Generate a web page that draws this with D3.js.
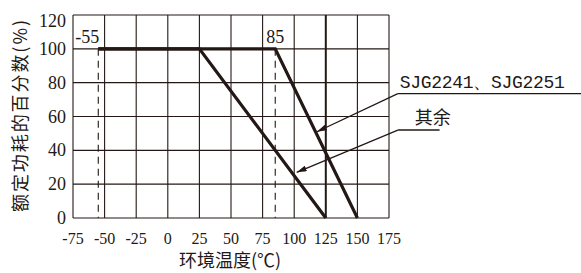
<!DOCTYPE html>
<html>
<head>
<meta charset="utf-8">
<script src="https://cdn.jsdelivr.net/npm/d3@7"></script>
<style>
	body { margin: 0; background: #fff; }
	svg { display: block; }
</style>
</head>
<body>
<div id="canvas"></div>
<script>
// derating curves: temperature (°C) vs % of rated power
var sjgTemps = [-55, 85, 150];
var sjgPower = [100, 100, 0];
var otherTemps = [-55, 25, 125];
var otherPower = [100, 100, 0];

var xTicks = [-75, -50, -25, 0, 25, 50, 75, 100, 125, 150, 175];
var yTicks = [0, 20, 40, 60, 80, 100, 120];
var markTemps = [-55, 85];          // dashed lines with labels on top

var labels = ["SJG2241、SJG2251", "其余"];
var labelAnchorTemp = [182, 182];
var labelAnchorPower = [73.5, 52];
var labelLineEndTemp = [330, 215];
var arrowTipTemp = [118, 102];
var arrowTipPower = [51, 27];

var w = 581, h = 273;
var ink = "#231815";
var serif = "'Liberation Serif', 'Times New Roman', serif";
var cjk = "'Noto Sans CJK SC', sans-serif";

var svg = d3.select("#canvas")
	.append("svg")
	.attr("width", w)
	.attr("height", h);

var x = d3.scaleLinear().domain([-75, 175]).range([73, 389]);
var y = d3.scaleLinear().domain([0, 120]).range([218, 15]);

// grid
svg.selectAll(".vgrid")
	.data(xTicks)
	.enter()
	.append("line")
	.attr("x1", function(d){ return x(d); })
	.attr("x2", function(d){ return x(d); })
	.attr("y1", y(0))
	.attr("y2", y(120))
	.attr("stroke", ink)
	.attr("stroke-width", function(d){ return d === 125 ? 2 : 1.1; });

svg.selectAll(".hgrid")
	.data(yTicks)
	.enter()
	.append("line")
	.attr("x1", x(-75))
	.attr("x2", x(175))
	.attr("y1", function(d){ return y(d); })
	.attr("y2", function(d){ return y(d); })
	.attr("stroke", ink)
	.attr("stroke-width", 1.1);

// dashed marks
svg.selectAll(".mark")
	.data(markTemps)
	.enter()
	.append("line")
	.attr("x1", function(d){ return x(d); })
	.attr("x2", function(d){ return x(d); })
	.attr("y1", y(100))
	.attr("y2", y(0))
	.attr("stroke", ink)
	.attr("stroke-width", 1.1)
	.attr("stroke-dasharray", "7,5");

svg.selectAll(".markText")
	.data(markTemps)
	.enter()
	.append("text")
	.attr("x", function(d){ return d < 0 ? x(d) - 23 : x(d) - 9; })
	.attr("y", y(100) - 6)
	.attr("font-family", serif)
	.attr("font-size", 18)
	.attr("fill", ink)
	.text(function(d){ return d; });

// curves
var line = d3.line()
	.x(function(d){ return x(d[0]); })
	.y(function(d){ return y(d[1]); });

[[sjgTemps, sjgPower], [otherTemps, otherPower]].forEach(function(s){
	svg.append("path")
		.datum(d3.zip(s[0], s[1]))
		.attr("d", line)
		.attr("fill", "none")
		.attr("stroke", ink)
		.attr("stroke-width", 3.2)
		.attr("stroke-linejoin", "miter");
});

// tick labels
svg.selectAll(".ylab")
	.data(yTicks)
	.enter()
	.append("text")
	.attr("x", 66)
	.attr("y", function(d){ return Math.max(y(d), 21) + 6; })
	.attr("text-anchor", "end")
	.attr("font-family", serif)
	.attr("font-size", 18)
	.attr("fill", ink)
	.text(function(d){ return d; });

svg.selectAll(".xlab")
	.data(xTicks)
	.enter()
	.append("text")
	.attr("x", function(d){ return x(d); })
	.attr("y", 244)
	.attr("text-anchor", "middle")
	.attr("font-family", serif)
	.attr("font-size", 16)
	.attr("fill", ink)
	.text(function(d){ return d; });

// axis titles
svg.append("text")
	.attr("x", 230)
	.attr("y", 267)
	.attr("text-anchor", "middle")
	.attr("font-family", cjk)
	.attr("font-size", 18)
	.attr("fill", ink)
	.text("环境温度(℃)");

svg.append("text")
	.attr("transform", "translate(27,116) rotate(-90)")
	.attr("text-anchor", "middle")
	.attr("font-family", cjk)
	.attr("font-size", 18)
	.attr("textLength", 192)
	.attr("fill", ink)
	.text("额定功耗的百分数(%)");

// annotations with leader arrows
svg.append("defs").append("marker")
	.attr("id", "arrow")
	.attr("viewBox", "0 0 10 6")
	.attr("refX", 10)
	.attr("refY", 3)
	.attr("markerWidth", 10)
	.attr("markerHeight", 6)
	.attr("markerUnits", "userSpaceOnUse")
	.attr("orient", "auto")
	.append("path")
	.attr("d", "M0,0 L10,3 L0,6 Z")
	.attr("fill", ink);

labels.forEach(function(t, i){
	var ax = x(labelAnchorTemp[i]), ay = y(labelAnchorPower[i]);
	svg.append("line")
		.attr("x1", ax)
		.attr("y1", ay)
		.attr("x2", x(labelLineEndTemp[i]))
		.attr("y2", ay)
		.attr("stroke", ink)
		.attr("stroke-width", 1.4);
	svg.append("line")
		.attr("x1", ax)
		.attr("y1", ay)
		.attr("x2", x(arrowTipTemp[i]))
		.attr("y2", y(arrowTipPower[i]))
		.attr("stroke", ink)
		.attr("stroke-width", 1.3)
		.attr("marker-end", "url(#arrow)");
	svg.append("text")
		.attr("x", i === 0 ? ax + 2 : ax + 17)
		.attr("y", ay - 6)
		.attr("font-family", i === 0 ? "'Liberation Mono', monospace" : cjk)
		.attr("font-size", i === 0 ? 18 : 18)
		.attr("fill", ink)
		.attr("textLength", i === 0 ? 165 : null)
		.text(t);
});
</script>
</body>
</html>
